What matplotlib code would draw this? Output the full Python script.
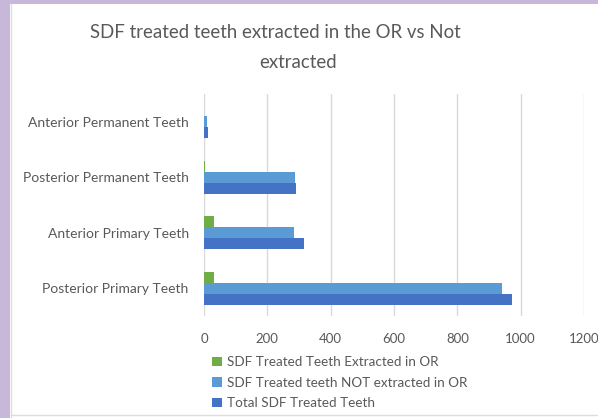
import numpy as np
import matplotlib
matplotlib.use('Agg')
import matplotlib.pyplot as plt
from matplotlib.patches import Rectangle

plt.rcParams['font.family'] = ['Lato', 'DejaVu Sans']

# data
categories = ['Posterior Primary Teeth', 'Anterior Primary Teeth',
              'Posterior Permanent Teeth', 'Anterior Permanent Teeth']
extracted = [30, 31, 4, 0]
not_extracted = [940, 284, 287, 9]
total = [974, 315, 292, 12]
series_labels = ['SDF Treated Teeth Extracted in OR',
                 'SDF Treated teeth NOT extracted in OR',
                 'Total SDF Treated Teeth']
xticks = [0, 200, 400, 600, 800, 1000, 1200]

GREEN = '#70AD47'
LIGHT = '#5B9BD5'
DARK = '#4472C4'
TEXT = '#595959'
W, H = 598, 418

fig = plt.figure(figsize=(W / 100, H / 100), dpi=100)
fig.patch.set_facecolor('white')

# purple frame around the slide
fig.patches.append(Rectangle((0, 0), 10 / W, 1, transform=fig.transFigure,
                             facecolor='#C7B8D9', edgecolor='none', zorder=0))
fig.patches.append(Rectangle((0, 1 - 4 / H), 1, 4 / H, transform=fig.transFigure,
                             facecolor='#C7B8D9', edgecolor='none', zorder=0))
fig.lines.append(plt.Line2D([11 / W, 11 / W], [0, 1 - 4 / H], transform=fig.transFigure,
                            color='#DDDDDD', lw=1))
fig.lines.append(plt.Line2D([11 / W, 1], [1 - 415 / H, 1 - 415 / H], transform=fig.transFigure,
                            color='#DDDDDD', lw=1))

ax = fig.add_axes([204 / W, 1 - 316 / H, (584 - 204) / W, (316 - 94) / H])
y = np.arange(len(categories))
h = 0.2
b1 = ax.barh(y + h, extracted, height=h, color=GREEN, label=series_labels[0], zorder=3)
b2 = ax.barh(y, not_extracted, height=h, color=LIGHT, label=series_labels[1], zorder=3)
b3 = ax.barh(y - h, total, height=h, color=DARK, label=series_labels[2], zorder=3)

ax.set_xlim(0, 1200)
ax.set_ylim(-0.5, len(categories) - 0.5)
ax.set_xticks(xticks)
ax.set_yticks(y)
ax.set_yticklabels(categories)
ax.tick_params(axis='both', length=0, labelsize=9.5, labelcolor=TEXT)
ax.tick_params(axis='y', labelsize=10, pad=11)
ax.tick_params(axis='x', pad=12)
ax.xaxis.grid(True, color='#D9D9D9', lw=1, zorder=0)
for s in ax.spines.values():
    s.set_visible(False)

fig.text(275 / W, 1 - 33 / H, 'SDF treated teeth extracted in the OR vs Not',
         ha='center', va='center', fontsize=13.4, color=TEXT)
fig.text(298 / W, 1 - 62 / H, 'extracted',
         ha='center', va='center', fontsize=13.4, color=TEXT)

leg = fig.legend(handles=[b1, b2, b3], loc='upper left',
                 bbox_to_anchor=(207 / W, 1 - 351 / H), frameon=False,
                 fontsize=9.75, labelcolor=TEXT, handlelength=0.7, handleheight=0.7,
                 handletextpad=0.35, labelspacing=0.62, borderaxespad=0)

fig.savefig('out.png', dpi=100, facecolor='white')
